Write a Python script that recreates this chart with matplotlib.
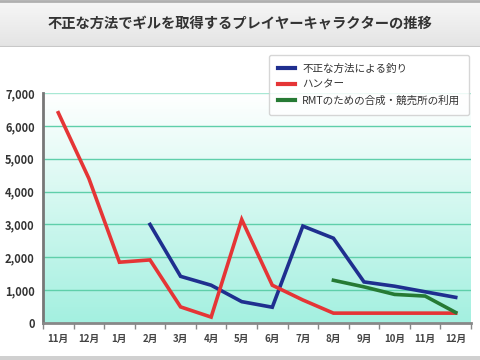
import numpy as np
import matplotlib.pyplot as plt
from matplotlib.colors import LinearSegmentedColormap

plt.rcParams['font.family'] = ['Noto Sans CJK JP', 'DejaVu Sans']

# データ
months = ['11月', '12月', '1月', '2月', '3月', '4月', '5月', '6月', '7月',
          '8月', '9月', '10月', '11月', '12月']
fishing = [None, None, None, 3000, 1420, 1150, 650, 480, 2950,
           2580, 1250, 1120, 950, 780]
hunter = [6400, 4400, 1850, 1920, 490, 180, 3150, 1150, 700,
          300, 300, 300, 300, 300]
rmt = [None, None, None, None, None, None, None, None, None,
       1300, 1100, 870, 820, 320]
series_names = ['不正な方法による釣り', 'ハンター', 'RMTのための合成・競売所の利用']
title = '不正な方法でギルを取得するプレイヤーキャラクターの推移'

fig = plt.figure(figsize=(4.8, 3.6), dpi=100)
fig.patch.set_facecolor('white')

# タイトルバー
bar = fig.add_axes([0, 1 - 47 / 360, 1, 47 / 360])
grad = np.linspace(0, 1, 50).reshape(-1, 1)
bar.imshow(grad, aspect='auto', extent=[0, 1, 0, 1],
           cmap=LinearSegmentedColormap.from_list('t', ['#f7f7f7', '#e4e4e4']))
bar.axhline(0.97, color='#b0b0b0', lw=2)
bar.axhline(0.01, color='#c8c8c8', lw=1.5)
bar.set_xlim(0, 1)
bar.set_ylim(0, 1)
bar.axis('off')
bar.text(0.5, 0.5, title, ha='center', va='center', fontsize=10.3,
         fontweight='bold', color='#333333')

# 下の線
foot = fig.add_axes([0, 0, 1, 4 / 360])
foot.set_facecolor('#d0d0d0')
foot.set_xticks([])
foot.set_yticks([])
for s in foot.spines.values():
    s.set_visible(False)

ax = fig.add_axes([43 / 480, 37 / 360, 428 / 480, 230 / 360])
n = len(months)
x = np.arange(n)
ax.set_xlim(-0.5, n - 0.5)
ax.set_ylim(0, 7000)

bg = np.linspace(1, 0, 100).reshape(-1, 1)
ax.imshow(bg, aspect='auto', extent=[-0.5, n - 0.5, 0, 7000], zorder=0,
          cmap=LinearSegmentedColormap.from_list('g', ['#a4f0e0', '#ffffff']))

for v in range(1000, 7001, 1000):
    ax.axhline(v, color='#5fcfaa' if v < 7000 else '#a8e8d4', lw=1, zorder=1)

def plot_series(vals, color):
    xs = [i for i, v in enumerate(vals) if v is not None]
    ys = [v for v in vals if v is not None]
    ax.plot(xs, ys, color=color, lw=2.6, zorder=3, solid_joinstyle='miter')

plot_series(fishing, '#1f2f8f')
plot_series(hunter, '#e53536')
plot_series(rmt, '#267a34')

ax.set_xticks(np.arange(-0.5, n, 1))
ax.set_xticklabels([])
ax.set_xticks(x, minor=True)
ax.set_xticklabels(months, minor=True)
ax.tick_params(axis='x', which='major', length=4, width=1, color='#888888',
               direction='out')
ax.tick_params(axis='x', which='minor', length=0, pad=8, labelsize=7,
               labelcolor='#444444')
ax.set_yticks(range(0, 7001, 1000))
ax.set_yticklabels(['{:,}'.format(v) for v in range(0, 7001, 1000)])
ax.tick_params(axis='y', length=0, pad=6, labelsize=8, labelcolor='#333333')
for lab in ax.get_yticklabels():
    lab.set_fontweight('bold')
for lab in ax.get_xticklabels(minor=True):
    lab.set_fontweight('bold')

for s in ['top', 'right']:
    ax.spines[s].set_visible(False)
ax.spines['left'].set_color('#777777')
ax.spines['left'].set_linewidth(2)
ax.spines['bottom'].set_color('#888888')
ax.spines['bottom'].set_linewidth(2)

handles = [plt.Line2D([], [], color=c, lw=3) for c in ['#1f2f8f', '#e53536', '#267a34']]
leg = fig.legend(handles, series_names, loc='upper left',
                 bbox_to_anchor=(269 / 480, 1 - 55 / 360), fontsize=7.6,
                 frameon=True, fancybox=True, handlelength=1.6,
                 handletextpad=0.7, labelspacing=0.55, borderpad=0.85,
                 borderaxespad=0)
leg.get_frame().set_edgecolor('#cccccc')
leg.get_frame().set_linewidth(1)
for t in leg.get_texts():
    t.set_color('#333333')

fig.savefig('out.png', dpi=100)
